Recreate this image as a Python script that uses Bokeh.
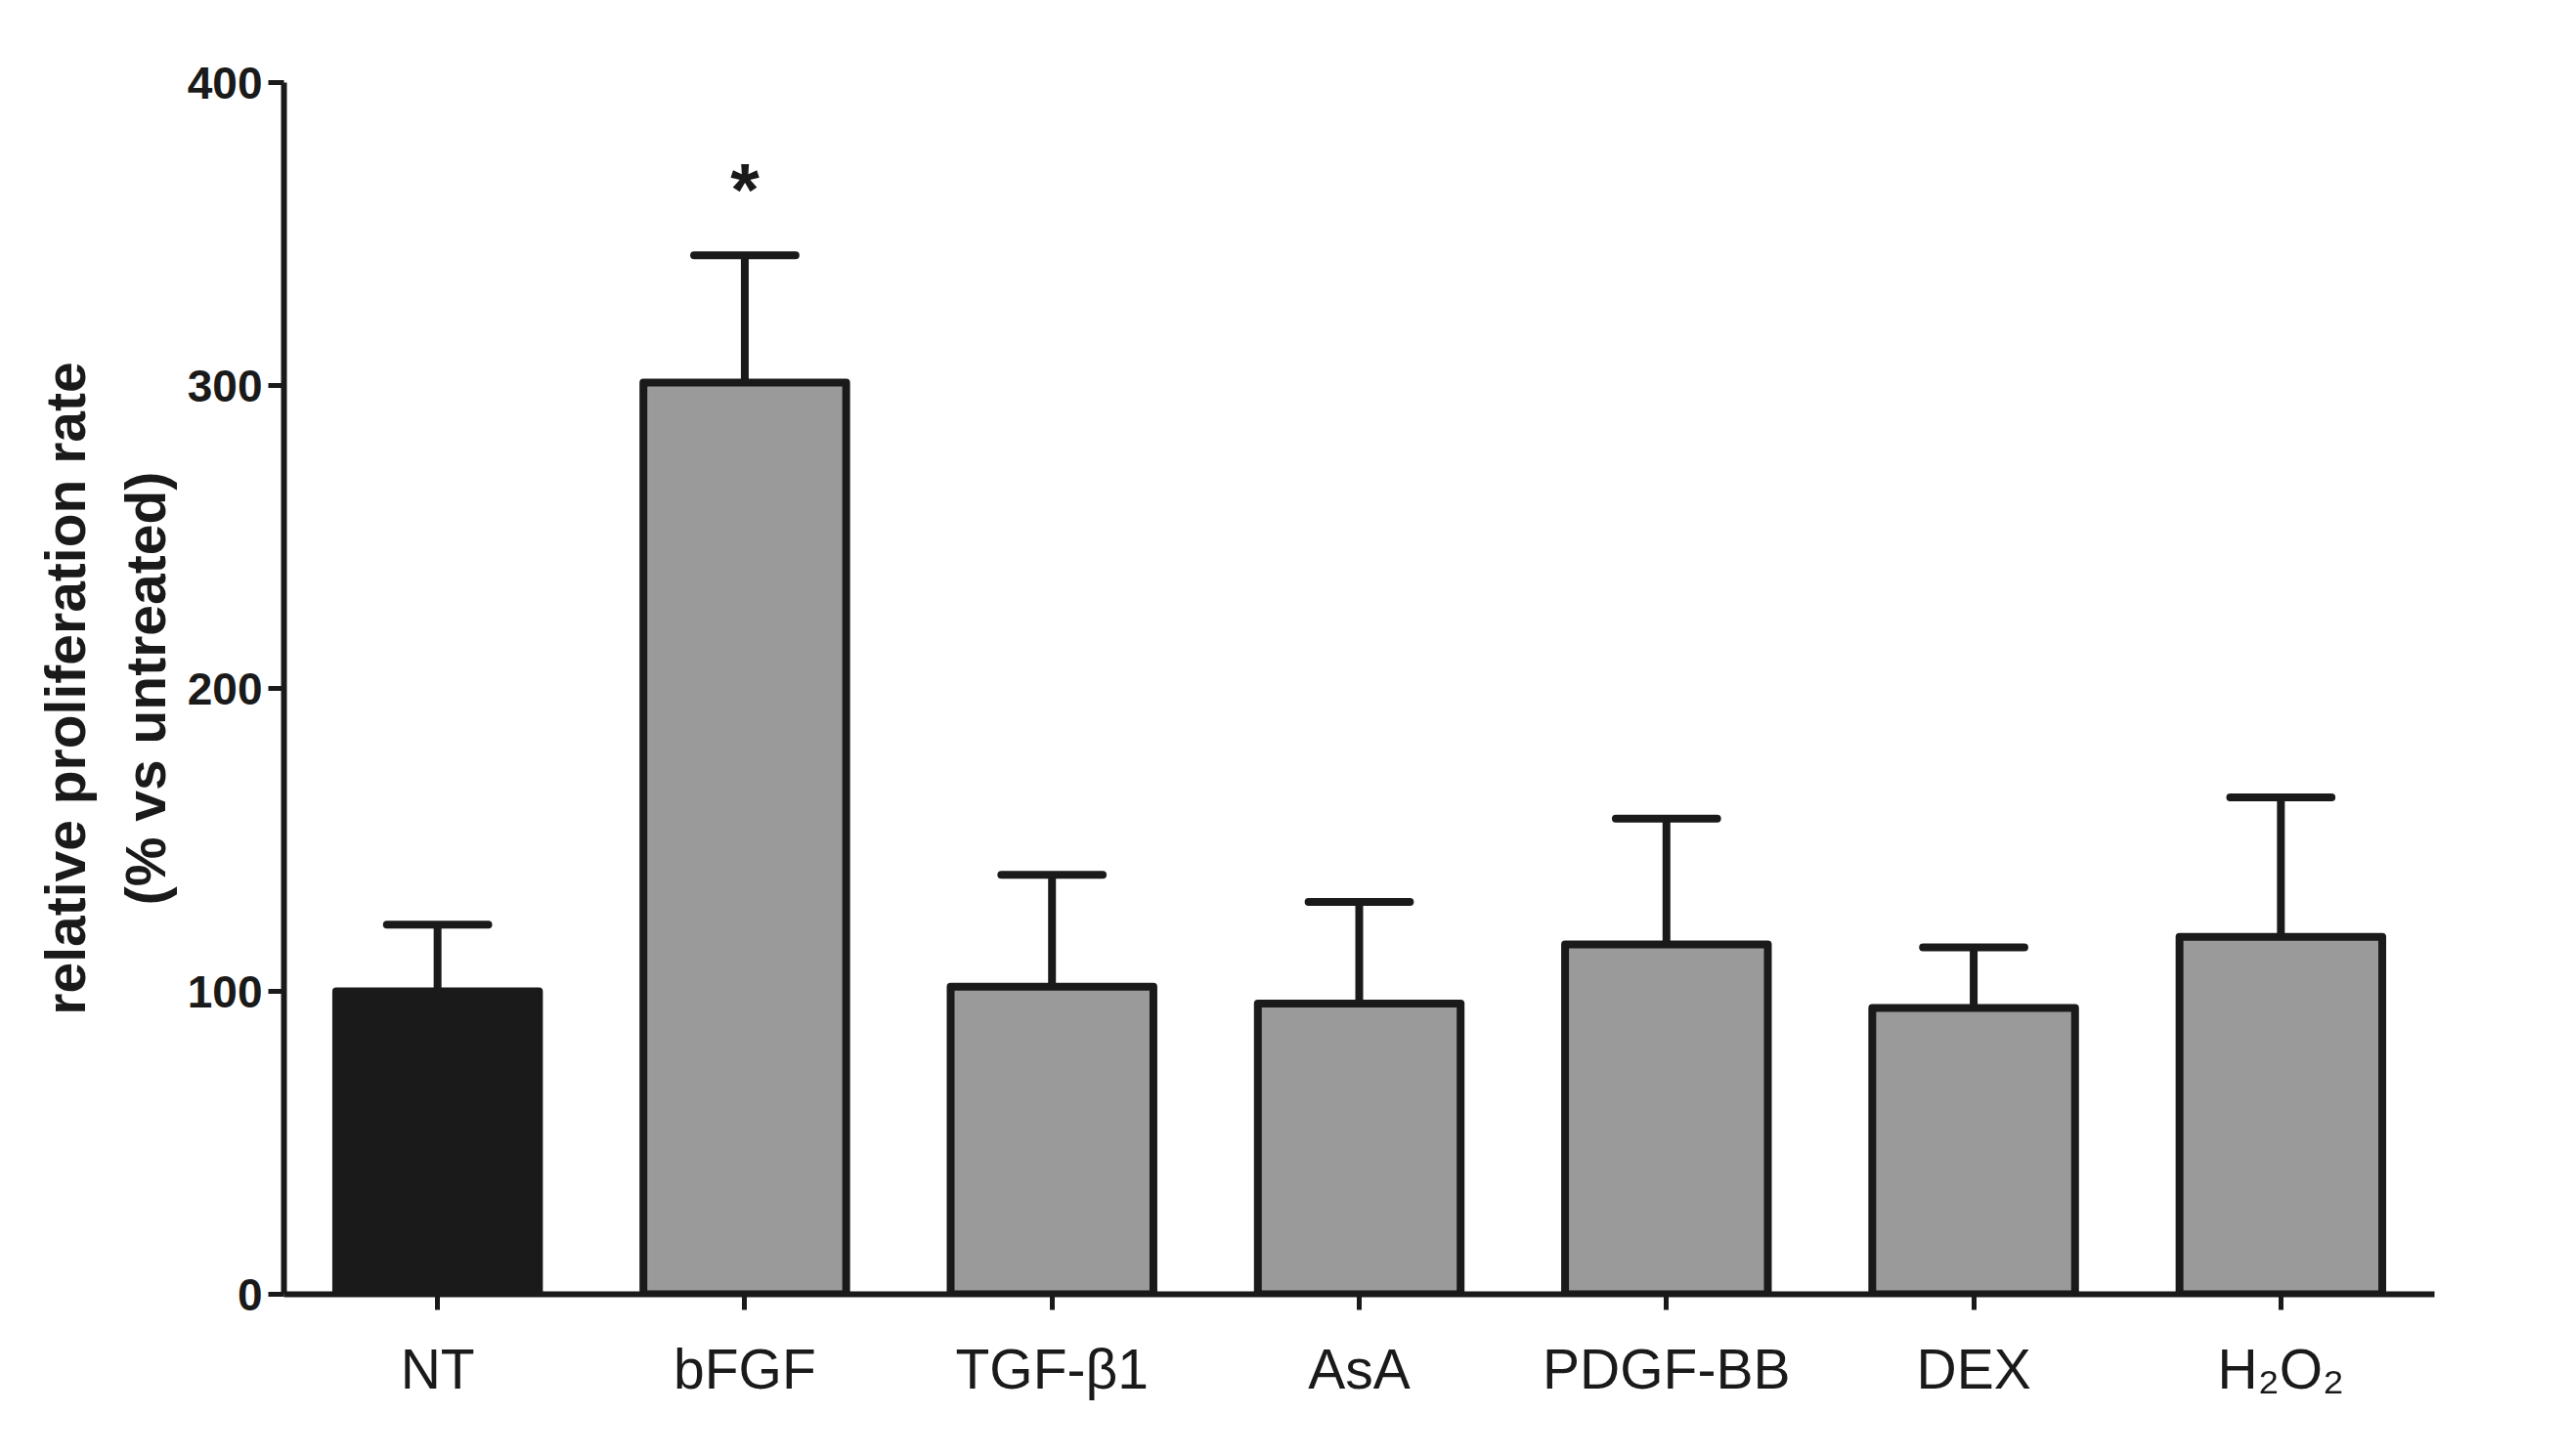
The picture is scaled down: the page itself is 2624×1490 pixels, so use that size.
from bokeh.plotting import figure
from bokeh.models import ColumnDataSource, FactorRange, Range1d, FixedTicker
from bokeh.transform import dodge
from bokeh.core.properties import value
from bokeh.embed import file_html
from bokeh.resources import INLINE

# ---- data ----
categories = ["NT", "bFGF", "TGF-β1", "AsA", "PDGF-BB", "DEX", "H₂O₂"]
means = [100, 301, 101.5, 96, 115.5, 94.5, 118]
errors = [22, 42, 37, 33.5, 41.5, 20, 46]
significance = ["", "*", "", "", "", "", ""]
y_ticks = [0, 100, 200, 300, 400]
y_label = "relative proliferation rate\n(% vs untreated)"

INK = "#1a1a1a"
GREY = "#9a9a9a"
FONT = "Liberation Sans"

upper = [m + e for m, e in zip(means, errors)]
fills = [INK] + [GREY] * (len(categories) - 1)

src = ColumnDataSource(dict(cat=categories, mean=means, upper=upper, fill=fills))
sig_src = ColumnDataSource(dict(
    cat=[c for c, s in zip(categories, significance) if s],
    y=[u + 22 for u, s in zip(upper, significance) if s],
    text=[s for s in significance if s],
))

p = figure(
    x_range=FactorRange(*categories, range_padding=0),
    y_range=Range1d(0, 400),
    width=2608, height=1474,
    output_backend="svg", toolbar_location=None,
    min_border_left=290, min_border_right=118,
    min_border_top=84, min_border_bottom=150,
)
p.x_range.factor_padding = 0
p.x_range.group_padding = 0

p.vbar(x="cat", top="mean", width=0.66, source=src,
       fill_color="fill", line_color=INK, line_width=8, line_join="round")

# error bars (upper only)
p.segment(x0="cat", y0="mean", x1="cat", y1="upper", source=src,
          line_color=INK, line_width=8)
p.segment(x0=dodge("cat", -0.165, range=p.x_range), y0="upper",
          x1=dodge("cat", 0.165, range=p.x_range), y1="upper", source=src,
          line_color=INK, line_width=8, line_cap="round")

p.text(x="cat", y="y", text="text", source=sig_src,
       text_align="center", text_baseline="alphabetic",
       text_font=value(FONT), text_font_style="bold",
       text_font_size="76px", text_color=INK)

# styling
p.grid.visible = False
p.outline_line_color = None
p.background_fill_color = "white"
p.border_fill_color = "white"

ya = p.yaxis[0]
ya.ticker = FixedTicker(ticks=y_ticks)
ya.axis_line_width = 6
ya.axis_line_color = INK
ya.major_tick_line_width = 5
ya.major_tick_line_color = INK
ya.major_tick_in = 0
ya.major_tick_out = 16
ya.minor_tick_line_color = None
ya.major_label_text_font = FONT
ya.major_label_text_font_style = "bold"
ya.major_label_text_font_size = "46px"
ya.major_label_text_color = INK
ya.major_label_standoff = 6
ya.axis_label = y_label
ya.axis_label_text_font = FONT
ya.axis_label_text_font_style = "bold"
ya.axis_label_text_font_size = "57px"
ya.axis_label_text_line_height = 1.27
ya.axis_label_text_color = INK
ya.axis_label_standoff = 8

xa = p.xaxis[0]
xa.axis_line_width = 6
xa.axis_line_color = INK
xa.major_tick_line_width = 5
xa.major_tick_line_color = INK
xa.major_tick_in = 0
xa.major_tick_out = 16
xa.minor_tick_line_color = None
xa.major_label_text_font = FONT
xa.major_label_text_font_style = "normal"
xa.major_label_text_font_size = "57px"
xa.major_label_text_color = INK
xa.major_label_standoff = 28

open("out.html", "w").write(file_html(p, INLINE))
